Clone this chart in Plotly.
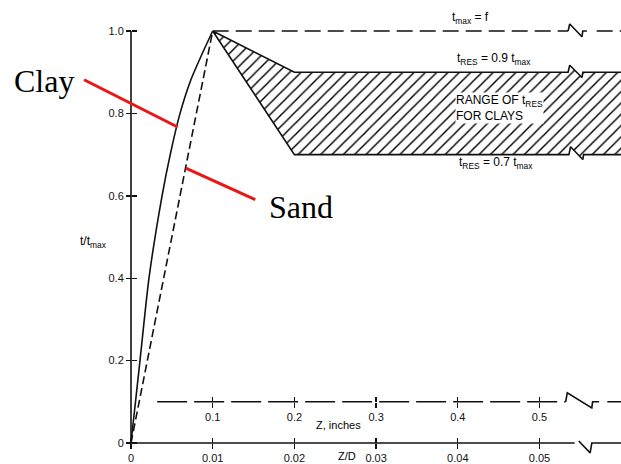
import plotly.graph_objects as go

# ---------------- data ----------------
clay_zd = [0.0, 0.0011, 0.0022, 0.0038, 0.0048, 0.0060, 0.0073, 0.0086, 0.0100]
clay_t = [0.0, 0.20, 0.40, 0.60, 0.70, 0.80, 0.88, 0.94, 1.00]
sand_zd = [0.0, 0.0100]
sand_t = [0.0, 1.00]
tmax_zd = [0.0100]
tmax_t = [1.00]
res_zd = [0.0100, 0.0200]
res_upper = [1.00, 0.90]
res_lower = [1.00, 0.70]
zin_start = 0.032          # Z (inches) where the inch scale line starts
t_ticks = [0, 0.2, 0.4, 0.6, 0.8, 1.0]
t_ticklabels = ["0", "0.2", "0.4", "0.6", "0.8", "1.0"]
zd_ticks = [0, 0.01, 0.02, 0.03, 0.04, 0.05]
zd_ticklabels = ["0", "0.01", "0.02", "0.03", "0.04", "0.05"]
zin_ticks = [0.1, 0.2, 0.3, 0.4, 0.5]
zin_ticklabels = ["0.1", "0.2", "0.3", "0.4", "0.5"]
INCH_PER_ZD = 10
ZIN_LEVEL = 0.10           # t/tmax level at which the inch scale is drawn

# ---------------- layout geometry ----------------
W, H = 621, 464
X0PX, XS = 131, 8170
Y0PX, YS = 443, 412
XR = [-X0PX / XS, (W - X0PX) / XS]
YR = [-(H - Y0PX) / YS, Y0PX / YS]
X_END = XR[1] + 0.003
BRK = (0.0535, 0.0552)
INK = "#111111"
SANS = "Liberation Sans, Arial, sans-serif"
SERIF = "Liberation Serif, Times New Roman, serif"


def zig(y, x0, x1, up, dn):
    return [x0, x0 + 0.0002, x1, x1 + 0.0001], [y, y + up, y - dn, y]


fig = go.Figure()

# hatched range of residual shear
ux, uy = zig(res_upper[-1], BRK[0], BRK[1], 0.017, 0.013)
lx, ly = zig(res_lower[-1], BRK[0] + 0.0001, BRK[1] + 0.0001, 0.019, 0.012)
poly_x = res_zd + ux + [X_END, X_END] + lx[::-1] + res_zd[::-1]
poly_y = res_upper + uy + [res_upper[-1], res_lower[-1]] + ly[::-1] + res_lower[::-1]
fig.add_trace(go.Scatter(
    x=poly_x, y=poly_y, mode="lines", fill="toself",
    fillcolor="rgba(0,0,0,0)",
    fillpattern=dict(shape="/", size=8, solidity=0.18, fgcolor="#000000",
                     bgcolor="rgba(0,0,0,0)", fillmode="replace"),
    line=dict(color=INK, width=1.6), hoverinfo="skip", showlegend=False))

# t max = f line (dashed with break)
tx, ty = zig(tmax_t[0], BRK[0], BRK[1], 0.017, 0.014)
fig.add_trace(go.Scatter(x=[tmax_zd[0], tx[0]], y=[tmax_t[0]] * 2, mode="lines",
                         line=dict(color=INK, width=1.6, dash="16px,7px"),
                         hoverinfo="skip", showlegend=False))
fig.add_trace(go.Scatter(x=tx + [tx[-1] + 0.0005], y=ty + [ty[-1]], mode="lines",
                         line=dict(color=INK, width=1.6),
                         hoverinfo="skip", showlegend=False))
fig.add_trace(go.Scatter(x=[tx[-1] + 0.0017, X_END], y=[tmax_t[0]] * 2, mode="lines",
                         line=dict(color=INK, width=1.6, dash="16px,7px"),
                         hoverinfo="skip", showlegend=False))

# clay (solid) and sand (dashed) curves
fig.add_trace(go.Scatter(x=clay_zd, y=clay_t, mode="lines",
                         line=dict(color=INK, width=1.6, shape="spline", smoothing=0.6),
                         hoverinfo="skip", showlegend=False))
fig.add_trace(go.Scatter(x=sand_zd, y=sand_t, mode="lines",
                         line=dict(color=INK, width=1.6, dash="8px,4px"),
                         hoverinfo="skip", showlegend=False))

# vertical axis line
fig.add_trace(go.Scatter(x=[0, 0], y=[t_ticks[0], t_ticks[-1]], mode="lines",
                         line=dict(color=INK, width=1.6), hoverinfo="skip", showlegend=False))

# Z/D axis line with break
fig.add_trace(go.Scatter(x=[0, 0.0543], y=[0, 0], mode="lines",
                         line=dict(color=INK, width=1.6), hoverinfo="skip", showlegend=False))
fig.add_trace(go.Scatter(x=[0.0548, 0.0562, 0.0564, X_END], y=[0.005, -0.024, 0, 0],
                         mode="lines", line=dict(color=INK, width=1.6),
                         hoverinfo="skip", showlegend=False))

# Z, inches scale line (dashed) with break, on the inch axis
bi0, bi1 = 0.532, 0.564
fig.add_trace(go.Scatter(x=[zin_start, bi0], y=[ZIN_LEVEL] * 2, xaxis="x3", mode="lines",
                         line=dict(color=INK, width=1.6, dash="30px,7px"),
                         hoverinfo="skip", showlegend=False))
fig.add_trace(go.Scatter(x=[bi0, bi0 + 0.002, bi1, bi1 + 0.001, 0.573],
                         y=[ZIN_LEVEL, ZIN_LEVEL + 0.022, ZIN_LEVEL - 0.015, ZIN_LEVEL, ZIN_LEVEL],
                         xaxis="x3", mode="lines", line=dict(color=INK, width=1.6),
                         hoverinfo="skip", showlegend=False))
fig.add_trace(go.Scatter(x=[0.583, X_END * INCH_PER_ZD], y=[ZIN_LEVEL] * 2, xaxis="x3",
                         mode="lines", line=dict(color=INK, width=1.6, dash="30px,7px"),
                         hoverinfo="skip", showlegend=False))

# dummy traces so that the overlay tick axes exist
for xa, ya in [("x2", "y"), ("x4", "y"), ("x", "y2")]:
    fig.add_trace(go.Scatter(x=[None], y=[None], xaxis=xa, yaxis=ya,
                             hoverinfo="skip", showlegend=False))

pos_zd = (0 - YR[0]) / (YR[1] - YR[0])
pos_zin = (ZIN_LEVEL - YR[0]) / (YR[1] - YR[0])
pos_y = X0PX / W
tick_common = dict(showgrid=False, zeroline=False, showline=False, ticks="outside",
                   tickcolor=INK, tickwidth=1.4, ticklen=5, fixedrange=True,
                   tickfont=dict(family=SANS, size=11, color=INK))

fig.update_layout(
    width=W, height=H, margin=dict(l=0, r=0, t=0, b=0, pad=0),
    paper_bgcolor="white", plot_bgcolor="white", hovermode=False, showlegend=False,
    xaxis=dict(range=XR, anchor="free", position=pos_zd, side="bottom",
               tickvals=zd_ticks, ticktext=zd_ticklabels, **tick_common),
    xaxis2=dict(range=XR, anchor="free", position=pos_zd, side="top", overlaying="x",
                tickvals=zd_ticks, showticklabels=False, **tick_common),
    xaxis3=dict(range=[v * INCH_PER_ZD for v in XR], anchor="free", position=pos_zin,
                side="bottom", overlaying="x",
                tickvals=zin_ticks, ticktext=zin_ticklabels, **tick_common),
    xaxis4=dict(range=[v * INCH_PER_ZD for v in XR], anchor="free", position=pos_zin,
                side="top", overlaying="x",
                tickvals=zin_ticks, showticklabels=False, **tick_common),
    yaxis=dict(range=YR, anchor="free", position=pos_y, side="left",
               tickvals=t_ticks, ticktext=t_ticklabels, **tick_common),
    yaxis2=dict(range=YR, anchor="free", position=pos_y, side="right", overlaying="y",
                tickvals=t_ticks, showticklabels=False, **tick_common),
)

lab = dict(family=SANS, size=12, color="black")
lab11 = dict(family=SANS, size=11, color="black")
big = dict(family=SERIF, size=32, color="black")
ann = [
    dict(x=0.0415, y=1.032, text="t<sub>max</sub> = f", font=lab),
    dict(x=0.0444, y=0.932, text="t<sub>RES</sub> = 0.9 t<sub>max</sub>", font=lab),
    dict(x=0.0397, y=0.813, text="RANGE OF t<sub>RES</sub><br>FOR CLAYS", font=lab,
         xanchor="left", align="left", bgcolor="white", borderpad=0),
    dict(x=0.0447, y=0.680, text="t<sub>RES</sub> = 0.7 t<sub>max</sub>", font=lab),
    dict(x=-0.00453, y=0.488, text="t/t<sub>max</sub>", font=lab),
    dict(x=0.02534, y=0.0437, text="Z, inches", font=lab11),
    dict(x=0.02644, y=-0.0316, text="Z/D", font=lab11),
    dict(x=-0.0146, y=0.879, text="Clay", font=big, xanchor="left"),
    dict(x=0.0166, y=0.573, text="Sand", font=big, xanchor="left"),
]
for a in ann:
    a.setdefault("xanchor", "center")
    fig.add_annotation(xref="x", yref="y", showarrow=False, yanchor="middle", **a)

# red pointers
for hx, hy, ax, ay in [(0.0057, 0.767, -95, -48), (0.0067, 0.667, 71, 32)]:
    fig.add_annotation(xref="x", yref="y", x=hx, y=hy, ax=ax, ay=ay, text="",
                       showarrow=True, arrowhead=0, arrowwidth=3,
                       arrowcolor="rgb(236,20,20)", standoff=0, startstandoff=0)

fig.write_html("out.html",
               config={"displayModeBar": False, "staticPlot": True},
               post_script="document.body.style.margin='0px';"
                           "document.body.style.overflow='hidden';")
